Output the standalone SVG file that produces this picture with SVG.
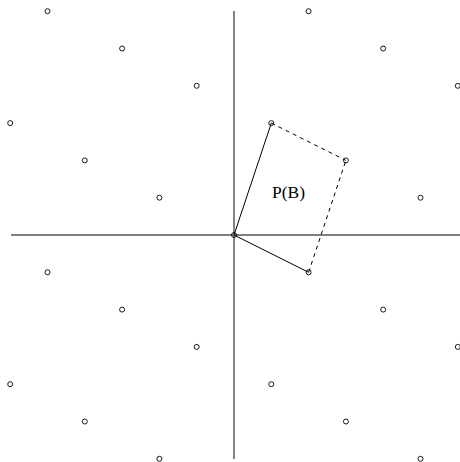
<svg xmlns="http://www.w3.org/2000/svg" width="460" height="462" viewBox="0 0 460 462">
<style>
.pt{fill:none;stroke:#000;stroke-width:0.9}
.ax{stroke:#000;stroke-width:1.1;fill:none}
.vax{stroke:#777;stroke-width:1.8;fill:none}
.edge{stroke:#000;stroke-width:1;fill:none}
.dash{stroke:#000;stroke-width:1;fill:none;stroke-dasharray:4 4}
.lbl{font-family:"Liberation Serif","Times New Roman",serif;font-size:17.5px;fill:#000}
</style>
<rect width="460" height="462" fill="#fff"/>
<g id="axes">
<line class="ax" x1="11" y1="235" x2="460" y2="235"/>
<line class="vax" x1="234" y1="11" x2="234" y2="459"/>
</g>
<g id="connectors">
<line class="edge" x1="234" y1="235" x2="271.3" y2="123.1"/>
<line class="edge" x1="234" y1="235" x2="308.6" y2="272.3"/>
<line class="dash" x1="271.3" y1="123.1" x2="345.9" y2="160.4"/>
<line class="dash" x1="308.6" y1="272.3" x2="345.9" y2="160.4"/>
</g>
<g id="lattice">
<circle class="pt" cx="308.6" cy="11.2" r="2.5"/>
<circle class="pt" cx="47.5" cy="11.2" r="2.5"/>
<circle class="pt" cx="383.2" cy="48.5" r="2.5"/>
<circle class="pt" cx="122.1" cy="48.5" r="2.5"/>
<circle class="pt" cx="457.8" cy="85.8" r="2.5"/>
<circle class="pt" cx="196.7" cy="85.8" r="2.5"/>
<circle class="pt" cx="271.3" cy="123.1" r="2.5"/>
<circle class="pt" cx="10.2" cy="123.1" r="2.5"/>
<circle class="pt" cx="345.9" cy="160.4" r="2.5"/>
<circle class="pt" cx="84.8" cy="160.4" r="2.5"/>
<circle class="pt" cx="420.5" cy="197.7" r="2.5"/>
<circle class="pt" cx="159.4" cy="197.7" r="2.5"/>
<circle class="pt" cx="234" cy="235" r="2.5"/>
<circle class="pt" cx="308.6" cy="272.3" r="2.5"/>
<circle class="pt" cx="47.5" cy="272.3" r="2.5"/>
<circle class="pt" cx="383.2" cy="309.6" r="2.5"/>
<circle class="pt" cx="122.1" cy="309.6" r="2.5"/>
<circle class="pt" cx="457.8" cy="346.9" r="2.5"/>
<circle class="pt" cx="196.7" cy="346.9" r="2.5"/>
<circle class="pt" cx="271.3" cy="384.2" r="2.5"/>
<circle class="pt" cx="10.2" cy="384.2" r="2.5"/>
<circle class="pt" cx="345.9" cy="421.5" r="2.5"/>
<circle class="pt" cx="84.8" cy="421.5" r="2.5"/>
<circle class="pt" cx="420.5" cy="458.8" r="2.5"/>
<circle class="pt" cx="159.4" cy="458.8" r="2.5"/>
</g>
<g id="label">
<text class="lbl" x="272" y="198">P(B)</text>
</g>
</svg>
